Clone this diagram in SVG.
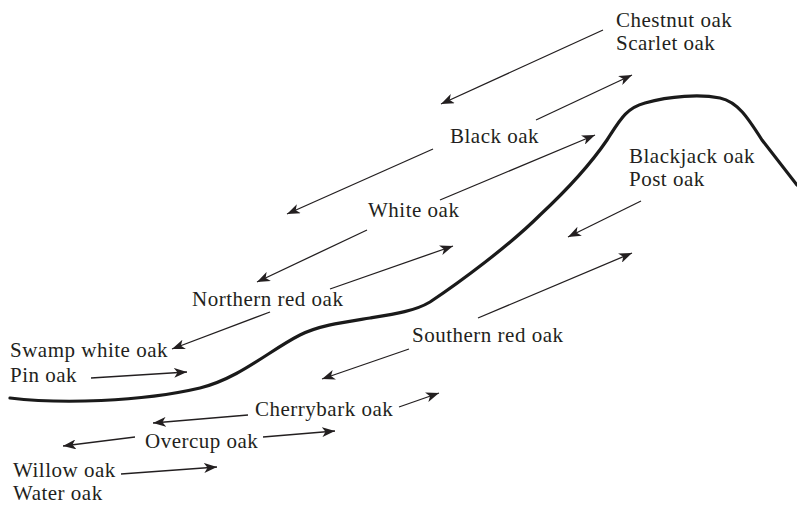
<svg xmlns="http://www.w3.org/2000/svg" width="797" height="506" viewBox="0 0 797 506">
  <style>
    .lbl { font-family: "Liberation Serif", "Times New Roman", serif; font-size: 21px; fill: #231f20; letter-spacing: 0.5px; }
    .arr { stroke: #231f20; stroke-width: 1.3; fill: none; marker-end: url(#head); }
    .ridge { stroke: #1a1a1a; stroke-width: 3.2; fill: none; stroke-linecap: round; stroke-linejoin: round; }
  </style>
  <defs>
    <marker id="head" markerUnits="userSpaceOnUse" markerWidth="14" markerHeight="10" refX="13" refY="5" orient="auto">
      <path d="M0,0 L13,5 L0,10 L3.5,5 Z" fill="#231f20"/>
    </marker>
  </defs>
  <rect width="797" height="506" fill="#ffffff"/>

  <!-- slope profile: bottomland on the left rising to the ridge top on the right -->
  <g id="slope">
    <path class="ridge" d="M10,398 C60,404 140,402 200,388 C240,378 270,350 300,335 C320,325 345,322 370,318 C395,314 415,311 430,302 C460,282 510,245 540,215 C570,187 592,162 607,140 C620,120 626,108 645,103 C670,96 700,94 720,98 C738,102 748,118 762,140 L797,185"/>
  </g>

  <!-- range arrows between species -->
  <g id="connectors">
    <line class="arr" x1="603" y1="30" x2="441" y2="104"/>
    <line class="arr" x1="536" y1="120" x2="632" y2="75"/>
    <line class="arr" x1="433" y1="149" x2="287" y2="214"/>
    <line class="arr" x1="440" y1="200" x2="595" y2="135"/>
    <line class="arr" x1="367" y1="230" x2="257" y2="282"/>
    <line class="arr" x1="330" y1="289" x2="453" y2="246"/>
    <line class="arr" x1="270" y1="312" x2="172" y2="349"/>
    <line class="arr" x1="91" y1="378" x2="187" y2="372"/>
    <line class="arr" x1="641" y1="201" x2="568" y2="237"/>
    <line class="arr" x1="478" y1="318" x2="632" y2="253"/>
    <line class="arr" x1="409" y1="349" x2="322" y2="379"/>
    <line class="arr" x1="399" y1="407" x2="439" y2="393"/>
    <line class="arr" x1="248" y1="415" x2="153" y2="423"/>
    <line class="arr" x1="135" y1="437" x2="63" y2="446"/>
    <line class="arr" x1="263" y1="437" x2="335" y2="431"/>
    <line class="arr" x1="121" y1="474" x2="217" y2="467"/>
  </g>

  <!-- species labels -->
  <g id="chestnut-scarlet">
    <text class="lbl" x="616" y="27">Chestnut oak</text>
    <text class="lbl" x="616" y="50">Scarlet oak</text>
  </g>
  <g id="black-oak"><text class="lbl" x="450" y="143">Black oak</text></g>
  <g id="blackjack-post">
    <text class="lbl" x="629" y="163">Blackjack oak</text>
    <text class="lbl" x="629" y="186">Post oak</text>
  </g>
  <g id="white-oak"><text class="lbl" x="368" y="217">White oak</text></g>
  <g id="northern-red-oak"><text class="lbl" x="192" y="306">Northern red oak</text></g>
  <g id="southern-red-oak"><text class="lbl" x="412" y="342">Southern red oak</text></g>
  <g id="swamp-white-pin">
    <text class="lbl" x="10" y="357">Swamp white oak</text>
    <text class="lbl" x="10" y="382">Pin oak</text>
  </g>
  <g id="cherrybark-oak"><text class="lbl" x="255" y="416">Cherrybark oak</text></g>
  <g id="overcup-oak"><text class="lbl" x="145" y="448">Overcup oak</text></g>
  <g id="willow-water">
    <text class="lbl" x="13" y="477">Willow oak</text>
    <text class="lbl" x="13" y="500">Water oak</text>
  </g>
</svg>
